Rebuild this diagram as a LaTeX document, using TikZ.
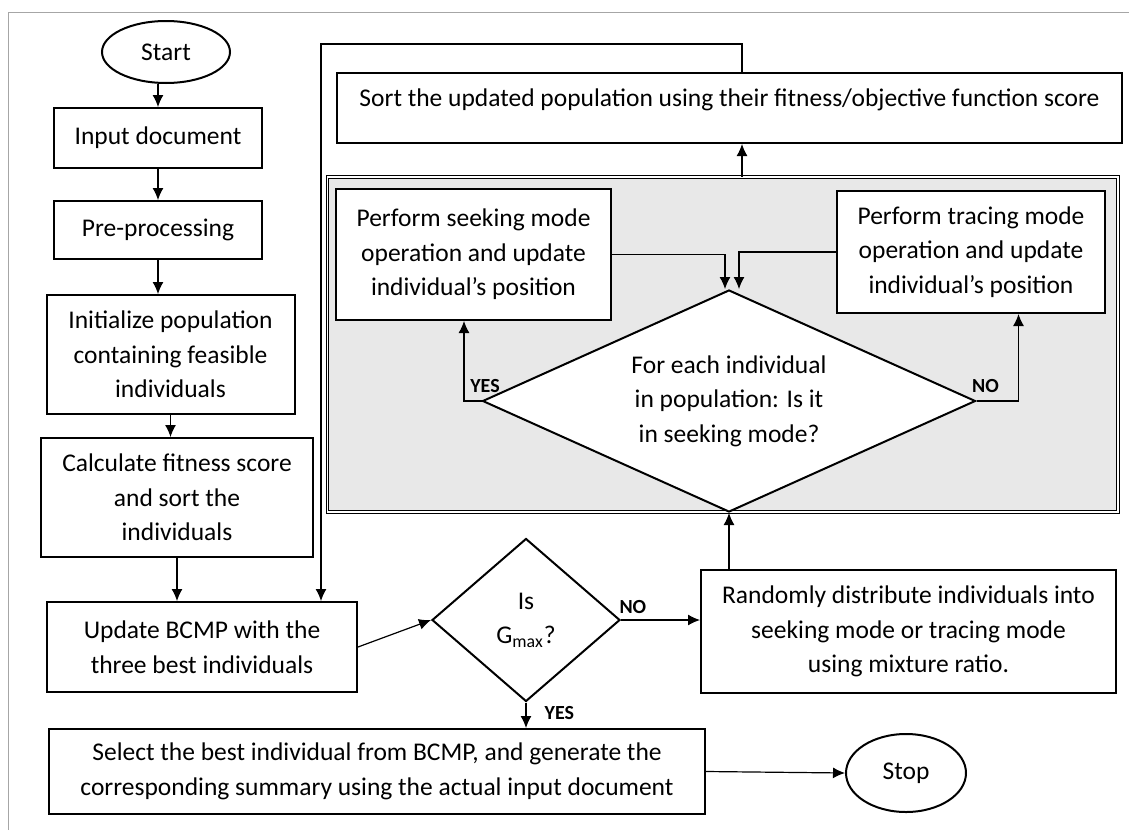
\documentclass[tikz,border=0pt]{standalone}
\usepackage{fontspec}
\setmainfont{Carlito}
\usetikzlibrary{arrows.meta,shapes.geometric,positioning}

\begin{document}
\begin{tikzpicture}[x=0.5pt,y=-0.5pt,>={Latex[length=6pt,width=5.5pt]},line width=0.6pt,
	every node/.style={font=\fontsize{12.75}{17.25}\selectfont},
	blk/.style={draw,line width=1pt,fill=white,align=center,inner sep=0pt},
	term/.style={draw,ellipse,line width=1pt,fill=white,inner sep=0pt},
	dec/.style={draw,diamond,line width=1pt,fill=white,align=center,inner sep=0pt},
	ans/.style={font=\fontsize{10}{12}\selectfont\bfseries,inner sep=0pt}]

\useasboundingbox (0,0) rectangle (1129,830);
\draw[gray!70,line width=0.5pt] (8,830) -- (8,12) -- (1129,12);

% left column
\node[term,minimum width=64pt,minimum height=31pt]	(start)	at (166,52)	{Start};
\node[blk,minimum width=104pt,minimum height=30pt]	(input)	at (158,138)	{Input document};
\node[blk,minimum width=104pt,minimum height=29pt]	(prep)	at (158,230)	{Pre-processing};
\node[blk,minimum width=124pt,minimum height=59.5pt]	(init)	at (170.5,354.5)	{Initialize population\\containing feasible\\individuals};
\node[blk,minimum width=135.75pt,minimum height=59.5pt]	(calc)	at (177,497.5)	{Calculate fitness score\\and sort the\\individuals};
\node[blk,minimum width=155pt,minimum height=45pt]	(bcmp)	at (202,647)	{Update BCMP with the\\three best individuals};
\node[dec,aspect=1.15,minimum width=94pt,minimum height=81.5pt]	(gmax)	at (526,620)	{Is\\G\textsubscript{max}?};
\node[blk,minimum width=328pt,minimum height=42.5pt]	(sel)	at (377,771.5)	{Select the best individual from BCMP, and generate the\\corresponding summary using the actual input document};
\node[term,minimum width=60pt,minimum height=39pt]	(stop)	at (906,773)	{Stop};

% right part
\node[draw,inner sep=0pt,text height=9pt,text depth=11pt,minimum width=392.5pt,minimum height=35pt,line width=1pt]	(sort)	at (729.5,108)	{Sort the updated population using their fitness/objective function score};
\node[draw,fill=gray!18,line width=0.5pt,double=white,double distance=0.6pt,minimum width=395.25pt,minimum height=167.5pt]	(panel)	at (722.75,344.5)	{};
\node[blk,minimum width=137.5pt,minimum height=65.5pt]	(seek)	at (473.5,254.5)	{Perform seeking mode\\operation and update\\individual’s position};
\node[blk,minimum width=134pt,minimum height=61pt]	(trace)	at (971,252)	{Perform tracing mode\\operation and update\\individual’s position};
\node[dec,aspect=2.2,minimum width=246.5pt,minimum height=111pt]	(each)	at (729,401)	{For each individual\\in population: Is it\\in seeking mode?};
\node[blk,minimum width=207.5pt,minimum height=61.5pt]	(rand)	at (908.5,631.5)	{Randomly distribute individuals into\\seeking mode or tracing mode\\using mixture ratio.};

\coordinate (fb)	at (742,44);
\coordinate (fbl)	at (321,44);

\path[->] (input.north |- start.south)	edge	(input.north)
(input.south)	edge	(prep.north)
(prep.south)	edge	(prep.south |- init.north)
(init.south)	edge	(init.south |- calc.north)
(calc.south)	edge	(calc.south |- bcmp.north)
(bcmp.east)	edge	(gmax.west)
(gmax.east)	edge	node[ans,above,pos=0.15,yshift=3pt]{NO}	(gmax.east -| rand.west)
(gmax.south)	edge	node[ans,right,pos=0.4,xshift=9pt]{YES}	(gmax.south |- sel.north)
(sel.east)	edge	(stop.west)
(each.south |- rand.north)	edge	(each.south)
(panel.north -| fb)	edge	(sort.south -| fb);

\draw[->] (sort.north -| fb) -- (fb) -- (fbl) -- (bcmp.north -| fbl);
\draw[->] (each.west) -| node[ans,at start,anchor=south,xshift=1.75pt,yshift=4pt]{YES} ([xshift=-4.75pt]seek.south);
\draw[->] (each.east) -| node[ans,at start,anchor=south,xshift=4.5pt,yshift=4pt]{NO} ([xshift=23.75pt]trace.south);
\draw[->] (seek.east) -| ([xshift=-2pt]each.north);
\draw[->] (trace.west) -| ([xshift=5pt]each.north);
\end{tikzpicture}
\end{document}
